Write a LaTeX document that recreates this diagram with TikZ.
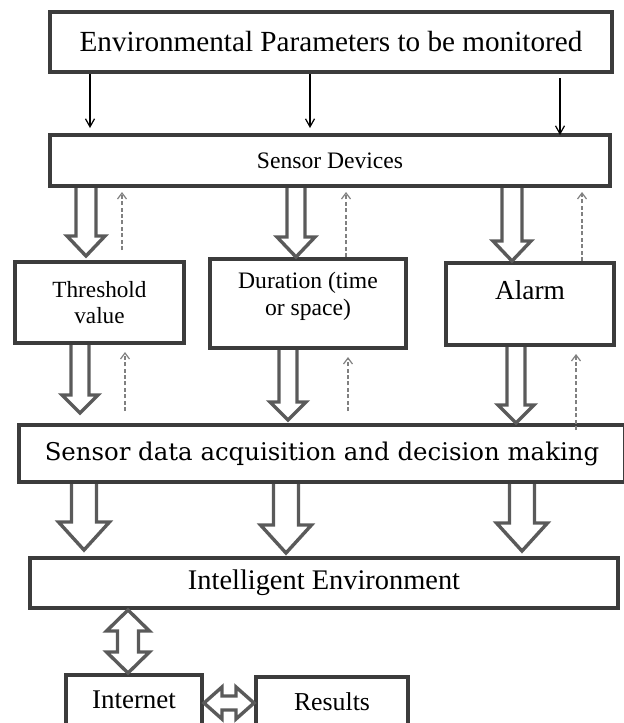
\documentclass[tikz,border=0pt]{standalone}
\usepackage{fontspec}
\setmainfont{Liberation Serif}
\newfontfamily\acqfont{DejaVu Serif}
\usetikzlibrary{arrows.meta,calc}

\definecolor{boxgray}{HTML}{3C3C3C}
\definecolor{arrowgray}{HTML}{5A5A5A}
\definecolor{dashgray}{HTML}{808080}

\tikzset{
  box/.style={draw=boxgray, line width=2pt, fill=white, inner sep=2pt, align=center},
  param/.style={draw=black, line width=0.6pt, -{Straight Barb[length=4pt,width=4.5pt]}},
  feed/.style={draw=dashgray, line width=0.6pt, dash pattern=on 2pt off 1.2pt,
    -{Straight Barb[length=3pt,width=4.5pt]}},
  % hollow block arrows: shaft half width, head half width, head length
  hollow/.style n args={3}{draw=arrowgray, line width=1.7pt,
    to path={let \p1=(\tikztostart), \p2=(\tikztotarget) in
      (\x1-#1,\y1) -- (\x1-#1,\y2+#3) -- (\x1-#2,\y2+#3) -- (\x1,\y2)
      -- (\x1+#2,\y2+#3) -- (\x1+#1,\y2+#3) -- (\x1+#1,\y1)}},
  hollowvv/.style n args={3}{draw=arrowgray, line width=1.7pt,
    to path={let \p1=(\tikztostart), \p2=(\tikztotarget) in
      (\x1-#1,\y1-#3) -- (\x1-#1,\y2+#3) -- (\x1-#2,\y2+#3) -- (\x1,\y2)
      -- (\x1+#2,\y2+#3) -- (\x1+#1,\y2+#3) -- (\x1+#1,\y1-#3)
      -- (\x1+#2,\y1-#3) -- (\x1,\y1) -- (\x1-#2,\y1-#3) -- cycle}},
  hollowhh/.style n args={3}{draw=arrowgray, line width=1.7pt,
    to path={let \p1=(\tikztostart), \p2=(\tikztotarget) in
      (\x1+#3,\y1+#1) -- (\x2-#3,\y1+#1) -- (\x2-#3,\y1+#2) -- (\x2,\y1)
      -- (\x2-#3,\y1-#2) -- (\x2-#3,\y1-#1) -- (\x1+#3,\y1-#1)
      -- (\x1+#3,\y1-#2) -- (\x1,\y1) -- (\x1+#3,\y1+#2) -- cycle}}
}

\begin{document}
\begin{tikzpicture}[x=0.5pt, y=-0.5pt]
  \path[use as bounding box, clip] (0,0) rectangle (624,723);

  % boxes
  \node[box, minimum width=281pt, minimum height=30pt, font=\fontsize{14.6}{17}\selectfont] (env) at (331,42) {Environmental Parameters to be monitored};
  \node[box, minimum width=280pt, minimum height=25.5pt, font=\fontsize{11.8}{14}\selectfont] (sensor) at (330,160.5) {Sensor Devices};
  \node[box, minimum width=84.5pt, minimum height=40.5pt, font=\fontsize{11.6}{13}\selectfont] (thr) at (99.5,302.5) {Threshold\\value};
  \node[box, minimum width=98pt, minimum height=44.5pt, text depth=10pt, font=\fontsize{11.8}{13.5}\selectfont] (dur) at (308,303.5) {Duration (time\\or space)};
  \node[box, minimum width=84pt, minimum height=41pt, text depth=14pt, font=\fontsize{13.7}{16}\selectfont] (alarm) at (530,304) {Alarm};
  \node[box, minimum width=303pt, minimum height=28.5pt, font=\acqfont\fontsize{12.2}{14}\selectfont] (acq) at (322,453.5) {Sensor data acquisition and decision making};
  \node[box, minimum width=294pt, minimum height=25pt, font=\fontsize{14.2}{17}\selectfont] (intel) at (324,583) {Intelligent Environment};
  \node[box, minimum width=68pt, minimum height=25pt, font=\fontsize{13.5}{16}\selectfont] (inet) at (134,700) {Internet};
  \node[box, minimum width=76pt, minimum height=25pt, font=\fontsize{12.9}{15}\selectfont] (res) at (332,702) {Results};

  % parameters into the sensors
  \draw[param, shorten >=2.5pt] (env.south -| 90,0) -- (sensor.north -| 90,0);
  \draw[param, shorten >=2.5pt] (env.south -| 310,0) -- (sensor.north -| 310,0);
  \draw[param, shorten <=2pt, shorten >=-1pt] (env.south -| 560,0) -- (sensor.north -| 560,0);

  % sensors to the three settings
  \draw[hollow={5pt}{9.5pt}{10pt}] (sensor.south -| 86,0) to ([yshift=2pt]thr.north -| 86,0);
  \draw[hollow={4.5pt}{9.5pt}{10pt}] (sensor.south -| 296,0) to (dur.north -| 296,0);
  \draw[hollow={5pt}{9.5pt}{10pt}] (sensor.south -| 512,0) to (alarm.north -| 512,0);
  \draw[feed, shorten <=5pt, shorten >=2pt] (thr.north -| 122,0) -- (sensor.south -| 122,0);
  \draw[feed, shorten >=2pt] (dur.north -| 346,0) -- (sensor.south -| 346,0);
  \draw[feed, shorten >=2pt] (alarm.north -| 582,0) -- (sensor.south -| 582,0);

  % settings to acquisition
  \draw[hollow={4.5pt}{9pt}{9pt}] (thr.south -| 80,0) to ([yshift=5pt]acq.north -| 80,0);
  \draw[hollow={4.5pt}{9pt}{9pt}] (dur.south -| 288,0) to ([yshift=1.5pt]acq.north -| 288,0);
  \draw[hollow={4.5pt}{9pt}{9pt}] (alarm.south -| 516,0) to (acq.north -| 516,0);
  \draw[feed, shorten <=6pt, shorten >=3.5pt] (acq.north -| 125,0) -- (thr.south -| 125,0);
  \draw[feed, shorten <=6pt, shorten >=3.5pt] (acq.north -| 348,0) -- (dur.south -| 348,0);
  \draw[feed, shorten <=-3.5pt, shorten >=3.5pt] (acq.north -| 576,0) -- (alarm.south -| 576,0);

  % acquisition to environment
  \draw[hollow={6.25pt}{12.75pt}{14pt}] (acq.south -| 84,0) to ([yshift=3pt]intel.north -| 84,0);
  \draw[hollow={6.25pt}{12.75pt}{14pt}] (acq.south -| 286,0) to ([yshift=1.5pt]intel.north -| 286,0);
  \draw[hollow={6.25pt}{12.75pt}{14pt}] (acq.south -| 522,0) to ([yshift=2.5pt]intel.north -| 522,0);

  % internet links
  \draw[hollowvv={5.25pt}{10.75pt}{10.5pt}] (intel.south -| 128,0) to (inet.north -| 128,0);
  \draw[hollowhh={3.5pt}{8pt}{9pt}] (inet.east |- 0,703) to (res.west |- 0,703);
\end{tikzpicture}
\end{document}
